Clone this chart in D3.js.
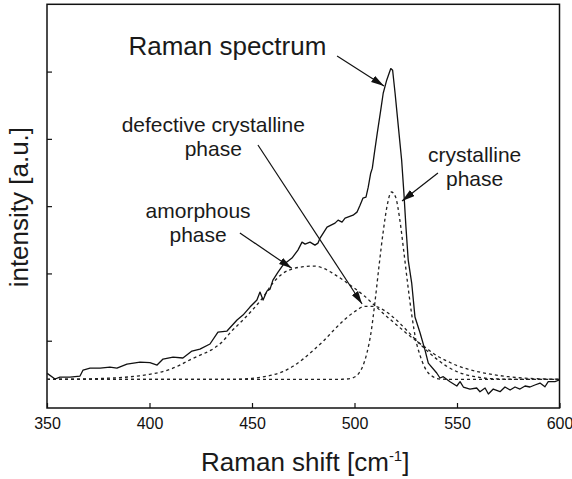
<!DOCTYPE html>
<html>
<head>
<meta charset="utf-8">
<script src="https://cdn.jsdelivr.net/npm/d3@7"></script>
<style>
  html, body { margin: 0; padding: 0; background: #fff; }
  svg { display: block; font-family: "Liberation Sans", Arial, Helvetica, sans-serif; }
</style>
</head>
<body>
<svg id="chart" width="572" height="479"></svg>
<script>
// Measured Raman spectrum (wavenumber in cm^-1, intensity in a.u.)
const spectrumShift = [350.1, 353.9, 356.3, 361.2, 366.1, 367.6, 371.0, 375.9, 380.7, 384.1,
  389.0, 395.4, 400.2, 403.7, 406.6, 411.5, 416.3, 420.7, 424.6, 429.5,
  433.4, 437.8, 442.7, 445.6, 449.0, 452.4, 453.9, 455.4, 457.3, 458.8,
  460.2, 462.7, 465.1, 469.5, 472.4, 474.4, 475.9, 478.3, 480.7, 482.2,
  483.2, 486.6, 490.5, 492.0, 493.9, 495.4, 499.3, 501.2, 502.7, 504.1,
  505.6, 506.7, 507.9, 508.7, 509.7, 511.1, 512.8, 514.0, 515.7, 517.7,
  518.6, 519.8, 521.4, 523.0, 524.1, 525.1, 526.2, 527.9, 529.5, 532.0,
  534.4, 536.0, 540.1, 541.7, 543.3, 546.6, 549.9, 551.5, 553.1, 556.3,
  559.6, 561.2, 563.7, 565.3, 567.7, 571.0, 573.4, 575.9, 578.3, 580.7,
  583.2, 585.6, 588.0, 590.5, 592.9, 594.5, 597.8, 599.9];
const spectrumIntensity = [0.515, 0.431, 0.46, 0.46, 0.475, 0.564, 0.594, 0.594, 0.609, 0.594,
  0.653, 0.683, 0.673, 0.639, 0.728, 0.757, 0.743, 0.847, 0.876, 0.951,
  1.129, 1.144, 1.307, 1.381, 1.5, 1.604, 1.723, 1.604, 1.738, 1.767,
  1.901, 2.02, 2.124, 2.228, 2.347, 2.465, 2.436, 2.465, 2.421, 2.451,
  2.525, 2.688, 2.748, 2.792, 2.763, 2.822, 2.866, 2.911, 3.015, 3.119,
  3.134, 3.282, 3.49, 3.565, 3.787, 4.084, 4.426, 4.678, 4.872, 5.045,
  5.02, 4.678, 4.178, 3.683, 3.193, 2.688, 2.198, 1.857, 1.352, 1.114,
  0.861, 0.668, 0.52, 0.446, 0.465, 0.391, 0.327, 0.391, 0.312, 0.282,
  0.297, 0.242, 0.297, 0.208, 0.282, 0.242, 0.312, 0.267, 0.312, 0.282,
  0.327, 0.312, 0.342, 0.371, 0.316, 0.391, 0.391, 0.416];

// Fitted components sampled every 5 cm^-1 from 350 to 600
const componentShift = [350, 355, 360, 365, 370, 375, 380, 385, 390, 395,
  400, 405, 410, 415, 420, 425, 430, 435, 440, 445,
  450, 455, 460, 465, 470, 475, 480, 485, 490, 495,
  500, 505, 510, 515, 520, 525, 530, 535, 540, 545,
  550, 555, 560, 565, 570, 575, 580, 585, 590, 595, 600];
const amorphousPhase = [0.426, 0.427, 0.428, 0.430, 0.433, 0.437, 0.443, 0.451, 0.462, 0.478,
  0.500, 0.530, 0.575, 0.640, 0.720, 0.790, 0.860, 0.970, 1.140, 1.290,
  1.450, 1.630, 1.850, 2.000, 2.070, 2.100, 2.110, 2.075, 1.990, 1.890,
  1.780, 1.660, 1.520, 1.380, 1.250, 1.120, 1.000, 0.890, 0.780, 0.700,
  0.630, 0.580, 0.540, 0.510, 0.485, 0.465, 0.450, 0.440, 0.434, 0.430, 0.428];
const defectivePhase = [0.426, 0.426, 0.426, 0.426, 0.426, 0.426, 0.426, 0.426, 0.426, 0.426,
  0.426, 0.426, 0.426, 0.426, 0.426, 0.426, 0.426, 0.426, 0.426, 0.43,
  0.44, 0.46, 0.49, 0.54, 0.62, 0.73, 0.86, 1.00, 1.16, 1.31,
  1.43, 1.51, 1.51, 1.44, 1.32, 1.17, 1.01, 0.86, 0.73, 0.62,
  0.54, 0.49, 0.46, 0.44, 0.432, 0.428, 0.426, 0.426, 0.426, 0.426, 0.426];

// Narrow crystalline component, sampled densely around its maximum
const crystallineShift = [350, 490, 494, 496, 498, 500, 502, 504, 506, 508,
  510, 512, 514, 516, 518, 520, 522, 524, 526, 528,
  530, 532, 534, 536, 538, 540, 542, 546, 600];
const crystallinePhase = [0.426, 0.426, 0.427, 0.43, 0.439, 0.46, 0.51, 0.62, 0.81, 1.11,
  1.58, 2.12, 2.62, 3.02, 3.21, 3.14, 2.82, 2.34, 1.83, 1.37,
  1.0, 0.78, 0.62, 0.52, 0.47, 0.44, 0.43, 0.426, 0.426];

// Axis ticks
const xTicks = [350, 400, 450, 500, 550, 600];
const yTicks = [1, 2, 3, 4, 5];

// Annotation labels (anchored in data units) and their pointer arrows
const labels = [
  { lines: ["Raman spectrum"], at: [438.0, 5.247], size: 26 },
  { lines: ["defective crystalline", "phase"], at: [431.1, 4.102], size: 21 },
  { lines: ["crystalline", "phase"], at: [558.6, 3.656], size: 21 },
  { lines: ["amorphous", "phase"], at: [423.7, 2.824], size: 21 }
];
const arrows = [
  { from: [491.5, 5.232], to: [514.4, 4.786] },
  { from: [452.9, 3.909], to: [503.7, 1.546] },
  { from: [540.7, 3.493], to: [523.2, 3.077] },
  { from: [444.1, 2.601], to: [469.4, 2.076] }
];

const svg = d3.select("#chart");
const plotLeft = 47, plotRight = 559.5, plotTop = 4.3, plotBottom = 408;

const x = d3.scaleLinear().domain([350, 600]).range([plotLeft, plotRight]);
const y = d3.scaleLinear().domain([0, 6]).range([plotBottom, plotTop]);

// Arrowhead marker
svg.append("defs").append("marker")
  .attr("id", "head")
  .attr("viewBox", "0 0 13 8")
  .attr("refX", 13).attr("refY", 4)
  .attr("markerWidth", 13).attr("markerHeight", 8)
  .attr("markerUnits", "userSpaceOnUse")
  .attr("orient", "auto")
  .append("path").attr("d", "M0,0.3 L13,4 L0,7.7 Z").attr("fill", "#111");

// Axes with inward ticks
const xAxis = svg.append("g")
  .attr("transform", `translate(0,${plotBottom})`)
  .call(d3.axisBottom(x).tickValues(xTicks).tickSizeInner(-5).tickSizeOuter(0).tickPadding(10));
xAxis.select(".domain").remove();
xAxis.selectAll("line").attr("stroke", "#111").attr("stroke-width", 1.2);
xAxis.selectAll("text").attr("font-size", 16).attr("fill", "#111")
  .attr("font-family", "'Liberation Sans', Arial, sans-serif");

const yAxis = svg.append("g")
  .attr("transform", `translate(${plotLeft},0)`)
  .call(d3.axisLeft(y).tickValues(yTicks).tickSizeInner(-5).tickSizeOuter(0).tickFormat(""));
yAxis.select(".domain").remove();
yAxis.selectAll("line").attr("stroke", "#111").attr("stroke-width", 1.2);

// Plot frame
svg.append("rect")
  .attr("x", plotLeft).attr("y", plotTop)
  .attr("width", plotRight - plotLeft).attr("height", plotBottom - plotTop)
  .attr("fill", "none").attr("stroke", "#111").attr("stroke-width", 1.5);

// Component curves (dotted)
const smooth = d3.line().curve(d3.curveMonotoneX);
const components = [
  [componentShift, amorphousPhase],
  [componentShift, defectivePhase],
  [crystallineShift, crystallinePhase]
];
components.forEach(([xs, ys]) => {
  svg.append("path")
    .attr("d", smooth(xs.map((w, i) => [x(w), y(ys[i])])))
    .attr("fill", "none").attr("stroke", "#222")
    .attr("stroke-width", 1.3).attr("stroke-dasharray", "3,3");
});

// Measured spectrum (solid)
svg.append("path")
  .attr("d", d3.line()(spectrumShift.map((w, i) => [x(w), y(spectrumIntensity[i])])))
  .attr("fill", "none").attr("stroke", "#111")
  .attr("stroke-width", 1.3).attr("stroke-linejoin", "round");

// Arrows
arrows.forEach(a => {
  svg.append("line")
    .attr("x1", x(a.from[0])).attr("y1", y(a.from[1]))
    .attr("x2", x(a.to[0])).attr("y2", y(a.to[1]))
    .attr("stroke", "#111").attr("stroke-width", 1.2)
    .attr("marker-end", "url(#head)");
});

// Labels
labels.forEach(l => {
  const t = svg.append("text")
    .attr("x", x(l.at[0])).attr("y", y(l.at[1]))
    .attr("text-anchor", "middle").attr("font-size", l.size).attr("fill", "#1a1a1a");
  l.lines.forEach((s, i) => {
    t.append("tspan").attr("x", x(l.at[0])).attr("dy", i === 0 ? 0 : "1.13em").text(s);
  });
});

// Axis titles
const xt = svg.append("text")
  .attr("x", (plotLeft + plotRight) / 2 + 2).attr("y", 471)
  .attr("text-anchor", "middle").attr("font-size", 26).attr("fill", "#1a1a1a");
xt.append("tspan").text("Raman shift [cm");
xt.append("tspan").attr("font-size", 15).attr("dy", -10).text("-1");
xt.append("tspan").attr("dy", 10).text("]");

svg.append("text")
  .attr("transform", `translate(28,${(plotTop + plotBottom) / 2 + 1}) rotate(-90)`)
  .attr("text-anchor", "middle").attr("font-size", 26).attr("fill", "#1a1a1a")
  .text("intensity [a.u.]");
</script>
</body>
</html>
